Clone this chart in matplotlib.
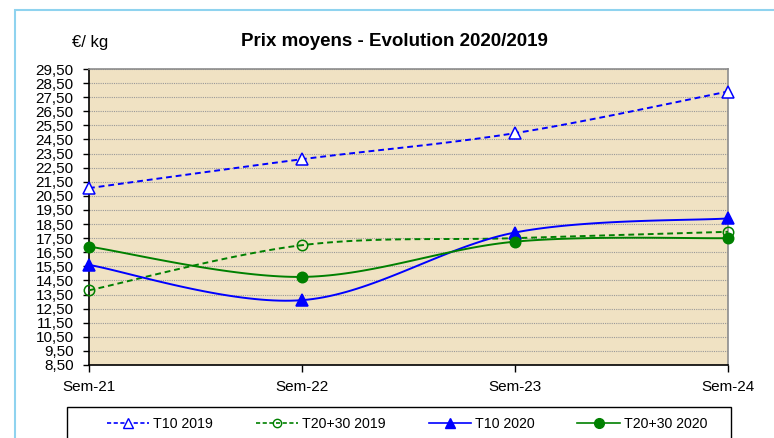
import numpy as np
import matplotlib.pyplot as plt
from matplotlib.patches import Rectangle
from matplotlib.ticker import FixedLocator, FuncFormatter

plt.rcParams['font.family'] = ['Liberation Sans', 'DejaVu Sans']

# données
semaines = ['Sem-21', 'Sem-22', 'Sem-23', 'Sem-24']
t10_2019 = [21.05, 23.1, 24.95, 27.9]
t2030_2019 = [13.8, 17.0, 17.5, 17.95]
t10_2020 = [15.6, 13.1, 17.9, 18.9]
t2030_2020 = [16.9, 14.75, 17.25, 17.5]
y_ticks = np.arange(8.5, 29.6, 1.0)


def lisse(y, n=40):
    # courbe lissée façon Excel (Bézier, tension 1/6)
    x = np.arange(len(y), dtype=float)
    p = np.column_stack([x, np.asarray(y, dtype=float)])
    pts = []
    for i in range(len(p) - 1):
        p0 = p[i - 1] if i > 0 else p[i]
        p3 = p[i + 2] if i + 2 < len(p) else p[i + 1]
        c1 = p[i] + (p[i + 1] - p0) / 6
        c2 = p[i + 1] - (p3 - p[i]) / 6
        t = np.linspace(0, 1, n)[:, None]
        seg = ((1 - t) ** 3) * p[i] + 3 * ((1 - t) ** 2) * t * c1 \
            + 3 * (1 - t) * t ** 2 * c2 + t ** 3 * p[i + 1]
        pts.append(seg if i == 0 else seg[1:])
    pts = np.vstack(pts)
    return pts[:, 0], pts[:, 1]


fig = plt.figure(figsize=(7.74, 4.38), dpi=100)
ax = fig.add_axes([89 / 774, 1 - 365 / 438, (728 - 89) / 774, (365 - 69) / 438])
ax.set_facecolor('#f0e2c3')

x = np.arange(len(semaines))
series = [
    (t10_2019, 'T10 2019', 'blue', '--', '^', 'white'),
    (t2030_2019, 'T20+30 2019', 'green', '--', 'o', 'none'),
    (t10_2020, 'T10 2020', 'blue', '-', '^', 'blue'),
    (t2030_2020, 'T20+30 2020', 'green', '-', 'o', 'green'),
]
handles = []
for vals, lab, col, ls, mk, mfc in series:
    xs, ys = lisse(vals)
    ax.plot(xs, ys, color=col, linestyle=ls, lw=1.4, dashes=(3, 2) if ls == '--' else (None, None), zorder=3)
    ax.plot(x, vals, linestyle='none', marker=mk, markersize=8 if mk == '^' else 7.5,
            markerfacecolor=mfc, markeredgecolor=col, markeredgewidth=1.1, zorder=4, clip_on=False)
    h, = ax.plot([], [], color=col, linestyle=ls, lw=1.2, marker=mk, markersize=7 if mfc != 'none' else 6,
                 markerfacecolor=mfc, markeredgecolor=col, label=lab)
    if ls == '--':
        h.set_dashes((2.5, 1.5))
    handles.append(h)

ax.set_xlim(0, 3)
ax.set_ylim(8.5, 29.5)
ax.set_xticks(x)
ax.set_xticklabels(semaines, fontsize=11)
ax.yaxis.set_major_locator(FixedLocator(y_ticks))
ax.yaxis.set_major_formatter(FuncFormatter(lambda v, p: f'{v:.2f}'.replace('.', ',')))
ax.tick_params(axis='y', labelsize=11, length=4, direction='out', width=1, pad=7)
ax.tick_params(axis='x', length=5, direction='out', width=1, pad=6)
ax.grid(axis='y', color='#999999', linestyle=(0, (1, 1)), lw=0.8)
ax.set_axisbelow(True)
for s in ['left', 'bottom']:
    ax.spines[s].set_color('black')
    ax.spines[s].set_linewidth(1.2)
for s in ['top', 'right']:
    ax.spines[s].set_color('#8c8c8c')
    ax.spines[s].set_linewidth(1.2)

fig.text(394 / 774, 1 - 42 / 438, 'Prix moyens - Evolution 2020/2019', ha='center', va='center',
         fontsize=13.5, fontweight='bold')
fig.text(72 / 774, 1 - 43 / 438, '€/ kg', ha='left', va='center', fontsize=12)

# cadre extérieur et cadre de la légende
fig.patches.append(Rectangle((15 / 774, -0.1), 1.0, 1 - 10 / 438 + 0.1, transform=fig.transFigure,
                             fill=False, edgecolor='#8fd3ef', lw=1.5))
fig.patches.append(Rectangle((67 / 774, -0.1), (731 - 67) / 774, 1 - 407 / 438 + 0.1,
                             transform=fig.transFigure, fill=False, edgecolor='black', lw=1))

fig.legend(handles=handles, loc='center', bbox_to_anchor=(407 / 774, 1 - 424 / 438), ncol=4,
           frameon=False, fontsize=10.2, handlelength=3, handletextpad=0.3, columnspacing=3.0,
           numpoints=1, borderpad=0)

fig.savefig('out.png', dpi=100)
